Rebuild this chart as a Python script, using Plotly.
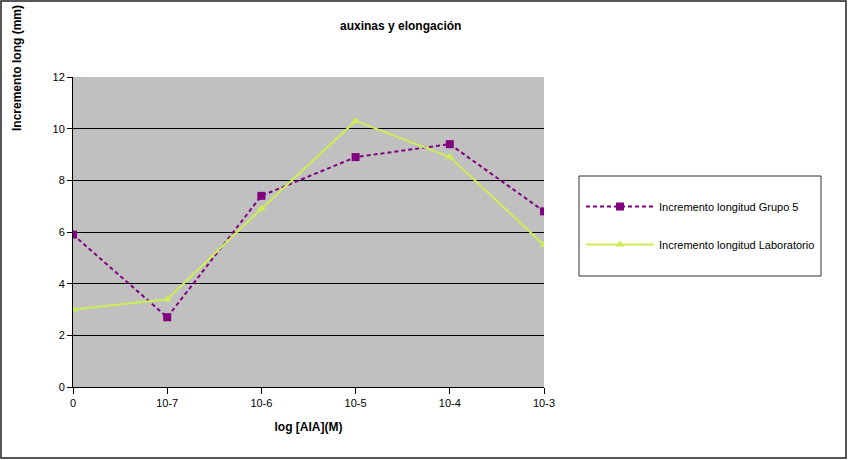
import plotly.graph_objects as go

# datos
categorias = ["0", "10-7", "10-6", "10-5", "10-4", "10-3"]
grupo5 = [5.9, 2.7, 7.4, 8.9, 9.4, 6.8]
laboratorio = [3.0, 3.4, 6.9, 10.3, 8.9, 5.5]

W, H = 848, 460
L, R, T, B = 73, 304, 77, 73
pw = W - L - R
ph = H - T - B


def px_x(x):
    # pixel horizontal -> coordenada paper
    return (x - L) / pw


def px_y(y):
    # pixel vertical -> coordenada paper
    return (H - B - y) / ph


fig = go.Figure()

fig.add_trace(go.Scatter(
    x=categorias, y=grupo5,
    mode='lines+markers',
    line=dict(color='#800080', width=2, dash='4px,3px'),
    marker=dict(symbol='square', size=8, color='#800080'),
    name='Incremento longitud Grupo 5', legendgroup='a'
))

fig.add_trace(go.Scatter(
    x=categorias, y=laboratorio,
    mode='lines+markers',
    line=dict(color='#ccee55', width=2),
    marker=dict(symbol='triangle-up', size=8, color='#ccee55'),
    name='Incremento longitud Laboratorio', legendgroup='b'
))

# marco exterior de la imagen
fig.add_shape(type='rect', xref='paper', yref='paper',
              x0=px_x(1), x1=px_x(W - 2), y0=px_y(H - 2), y1=px_y(1),
              line=dict(color='#222222', width=1.5))

# caja de la leyenda
fig.add_shape(type='rect', xref='paper', yref='paper',
              x0=px_x(579), x1=px_x(821), y0=px_y(276), y1=px_y(176),
              line=dict(color='#333333', width=1), fillcolor='white', layer='below')

fig.add_annotation(text='<b>auxinas y elongación</b>', xref='paper', yref='paper',
                   x=px_x(400), y=px_y(26), xanchor='center', yanchor='middle',
                   showarrow=False, font=dict(size=12, color='black'))

fig.add_annotation(text='<b>Incremento long (mm)</b>', xref='paper', yref='paper',
                   x=px_x(17), y=px_y(68), xanchor='center', yanchor='middle',
                   textangle=-90, showarrow=False, font=dict(size=12, color='black'))

fig.update_layout(
    width=W, height=H,
    margin=dict(l=L, r=R, t=T, b=B),
    paper_bgcolor='white',
    plot_bgcolor='#c0c0c0',
    font=dict(family='Liberation Sans, Arial', size=11, color='black'),
    showlegend=True,
    legend=dict(
        x=px_x(581), y=px_y(192),
        xanchor='left', yanchor='top',
        borderwidth=0, bgcolor='rgba(0,0,0,0)',
        font=dict(size=11), tracegroupgap=19,
        traceorder='grouped', itemwidth=68
    ),
    xaxis=dict(
        type='category', range=[0, 5],
        showgrid=False, showline=True, linecolor='black', linewidth=1,
        ticks='outside', ticklen=6, tickcolor='black',
        title=dict(text='<b>log [AIA](M)</b>', font=dict(size=12), standoff=14),
        zeroline=False
    ),
    yaxis=dict(
        range=[0, 12], dtick=2,
        showgrid=True, gridcolor='black', gridwidth=1,
        showline=True, linecolor='black', linewidth=1,
        ticks='outside', ticklen=5, tickcolor='black',
        zeroline=False
    )
)

fig.write_html("out.html", config=dict(displayModeBar=False),
               post_script="document.body.style.margin='0';")
